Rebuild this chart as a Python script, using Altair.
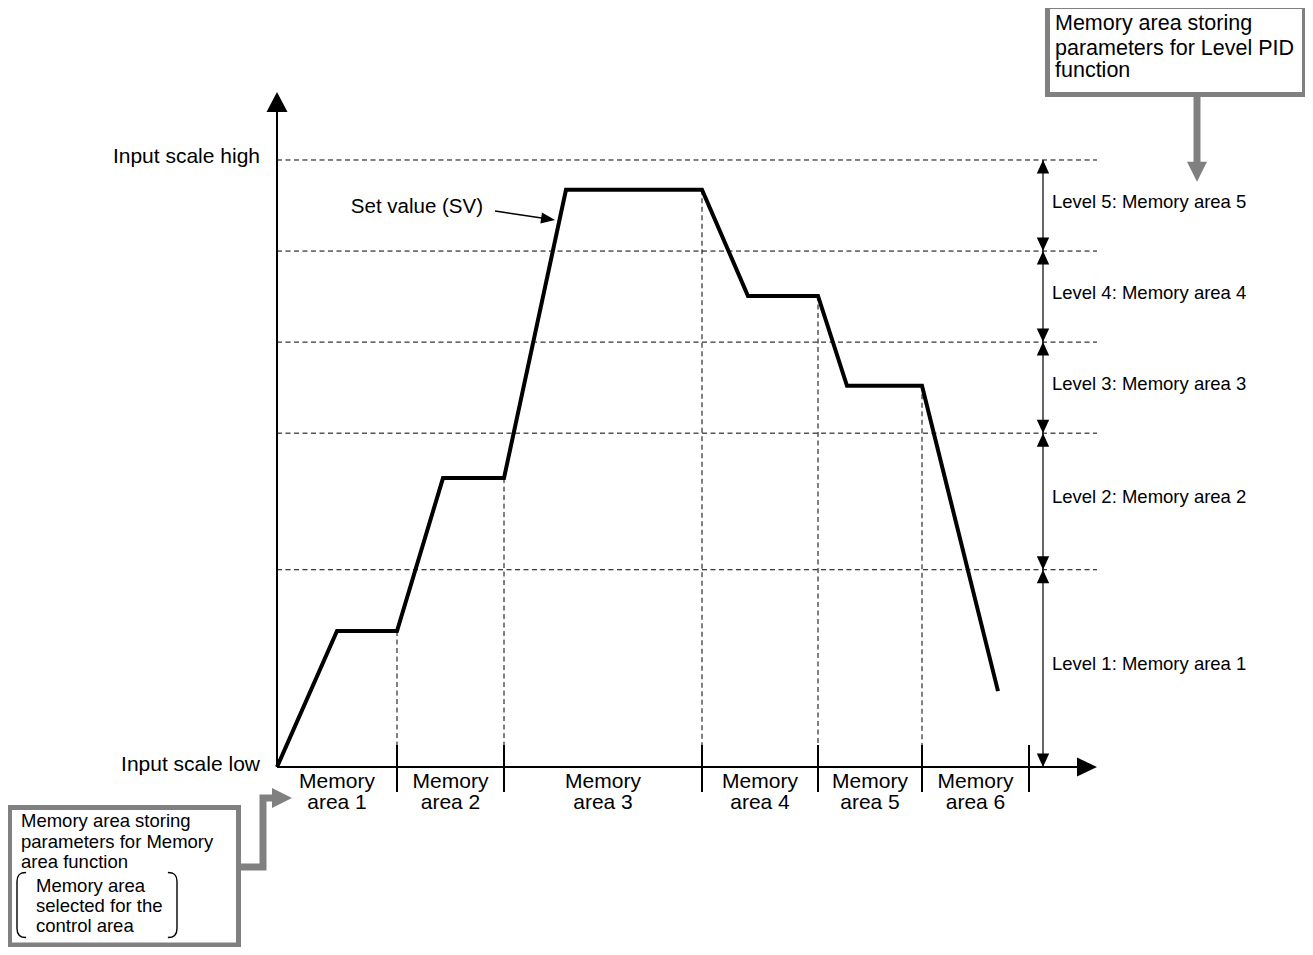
import altair as alt
import numpy as np
import pandas as pd

# ---------------- data (diagram units: time →, % of input range ↑) ----------------
sv_time = [0.0, 6.0, 12.0, 16.6, 22.7, 28.9, 42.5, 47.1, 54.1, 57.0, 64.5, 72.1]
sv_value = [0.0, 22.4, 22.4, 47.6, 47.6, 95.1, 95.1, 77.6, 77.6, 62.8, 62.8, 12.5]
area_bounds = [0.0, 12.0, 22.7, 42.5, 54.1, 64.5, 75.2]
area_names = ["area 1", "area 2", "area 3", "area 4", "area 5", "area 6"]
level_bounds = [0.0, 32.5, 55.0, 70.0, 85.0, 100.0]
level_names = ["Level 1: Memory area 1", "Level 2: Memory area 2",
               "Level 3: Memory area 3", "Level 4: Memory area 4",
               "Level 5: Memory area 5"]
scale_names = ["Input scale low", "Input scale high"]
sv_name = "Set value (SV)"
note_level_lines = ["Memory area storing", "parameters for Level PID", "function"]
note_area_lines = ["Memory area storing", "parameters for Memory", "area function"]
note_area_sub_lines = ["Memory area", "selected for the", "control area"]

# ---------------- layout ----------------
W, H = 1297, 939
X_DOM = [-26.9, 102.8]
Y_DOM = [-29.65, 125.04]
T_END = 82.0
FONT = "Liberation Sans"
GRAY = "#808080"
DASH = [5, 3.5]

xs = alt.Scale(domain=X_DOM, nice=False, zero=False)
ys = alt.Scale(domain=Y_DOM, nice=False, zero=False)


def X(f):
    return alt.X(f"{f}:Q", scale=xs, axis=None)


def Y(f):
    return alt.Y(f"{f}:Q", scale=ys, axis=None)


layers = []

# horizontal dashed level lines
hd = pd.DataFrame({"y": level_bounds[1:], "x0": 0.0, "x1": T_END})
layers.append(alt.Chart(hd).mark_rule(color="black", strokeWidth=1, strokeDash=DASH)
              .encode(x=X("x0"), x2="x1", y=Y("y")))

# vertical dashed lines from SV down to the ticks
TICK_TOP, TICK_BOT = 3.62, -4.12
vb = area_bounds[1:-1]
vd = pd.DataFrame({"t": vb, "ytop": np.interp(vb, sv_time, sv_value), "ybot": TICK_TOP})
layers.append(alt.Chart(vd).mark_rule(color="black", strokeWidth=1, strokeDash=DASH)
              .encode(x=X("t"), y=Y("ytop"), y2="ybot"))

# ticks on time axis
tk = pd.DataFrame({"t": area_bounds[1:], "y0": TICK_TOP, "y1": TICK_BOT})
layers.append(alt.Chart(tk).mark_rule(color="black", strokeWidth=2)
              .encode(x=X("t"), y=Y("y0"), y2="y1"))

# axes lines
ax = pd.DataFrame({"x0": [0.0, 0.0], "x1": [0.0, 80.3], "y0": [0.0, 0.0], "y1": [107.9, 0.0]})
layers.append(alt.Chart(ax).mark_rule(color="black", strokeWidth=2)
              .encode(x=X("x0"), x2="x1", y=Y("y0"), y2="y1"))

# axis arrowheads
layers.append(alt.Chart(pd.DataFrame({"t": [0.0], "v": [111.2]}))
              .mark_point(shape="M0,0L-1.05,2L1.05,2Z", filled=True, size=400, color="black", opacity=1)
              .encode(x=X("t"), y=Y("v")))
layers.append(alt.Chart(pd.DataFrame({"t": [T_END], "v": [0.0]}))
              .mark_point(shape="M0,0L-2,-0.95L-2,0.95Z", filled=True, size=400, color="black", opacity=1)
              .encode(x=X("t"), y=Y("v")))

# set value line
sv = pd.DataFrame({"t": sv_time, "v": sv_value, "o": range(len(sv_time))})
layers.append(alt.Chart(sv).mark_line(color="black", strokeWidth=4, strokeJoin="miter")
              .encode(x=X("t"), y=Y("v"), order="o:Q"))

# level dimension line with arrowheads
LV_X = 76.6
layers.append(alt.Chart(pd.DataFrame({"t": [LV_X], "y0": [level_bounds[0]], "y1": [level_bounds[-1]]}))
              .mark_rule(color="black", strokeWidth=1.2)
              .encode(x=X("t"), y=Y("y0"), y2="y1"))
ups = pd.DataFrame({"t": LV_X, "v": level_bounds[1:]})
downs = pd.DataFrame({"t": LV_X, "v": level_bounds[:-1]})
layers.append(alt.Chart(ups).mark_point(shape="M0,0L-0.62,1.35L0.62,1.35Z", filled=True, size=400,
                                        color="black", opacity=1)
              .encode(x=X("t"), y=Y("v")))
layers.append(alt.Chart(downs).mark_point(shape="M0,0L-0.62,-1.35L0.62,-1.35Z", filled=True, size=400,
                                          color="black", opacity=1)
              .encode(x=X("t"), y=Y("v")))

# level labels
mids = [(a + b) / 2 for a, b in zip(level_bounds[:-1], level_bounds[1:])]
ll = pd.DataFrame({"t": 77.5, "v": mids, "txt": level_names})
layers.append(alt.Chart(ll).mark_text(font=FONT, fontSize=18.5, align="left", baseline="middle",
                                      dy=-4, color="black")
              .encode(x=X("t"), y=Y("v"), text="txt:N"))

# memory area labels
amid = [(a + b) / 2 for a, b in zip(area_bounds[:-1], area_bounds[1:])]
al = pd.DataFrame({"t": amid, "v": 0.0, "l1": "Memory", "l2": area_names})
layers.append(alt.Chart(al).mark_text(font=FONT, fontSize=21, align="center", baseline="middle",
                                      dy=15, color="black")
              .encode(x=X("t"), y=Y("v"), text="l1:N"))
layers.append(alt.Chart(al).mark_text(font=FONT, fontSize=21, align="center", baseline="middle",
                                      dy=36, color="black")
              .encode(x=X("t"), y=Y("v"), text="l2:N"))

# input scale labels
sl = pd.DataFrame({"t": -1.7, "v": [0.0, 100.0], "txt": scale_names})
layers.append(alt.Chart(sl).mark_text(font=FONT, fontSize=21, align="right", baseline="middle",
                                      dy=-2.5, color="black")
              .encode(x=X("t"), y=Y("v"), text="txt:N"))

# SV annotation arrow
layers.append(alt.Chart(pd.DataFrame({"x0": [21.8], "x1": [26.8], "y0": [91.6], "y1": [90.35]}))
              .mark_rule(color="black", strokeWidth=1.5)
              .encode(x=X("x0"), x2="x1", y=Y("y0"), y2="y1"))
layers.append(alt.Chart(pd.DataFrame({"t": [27.8], "v": [90.1]}))
              .mark_point(shape="M0,0L-1.4,-0.55L-1.4,0.55Z", filled=True, size=400, color="black",
                          opacity=1, angle=8.5)
              .encode(x=X("t"), y=Y("v")))
layers.append(alt.Chart(pd.DataFrame({"t": [20.6], "v": [92.26], "txt": [sv_name]}))
              .mark_text(font=FONT, fontSize=20.5, align="right", baseline="middle", color="black")
              .encode(x=X("t"), y=Y("v"), text="txt:N"))

# ---- top-right note box ----
layers.append(alt.Chart(pd.DataFrame({"x0": [92.0], "y0": [110.4], "y1": [99.4]}))
              .mark_rule(color=GRAY, strokeWidth=7)
              .encode(x=X("x0"), y=Y("y0"), y2="y1"))
layers.append(alt.Chart(pd.DataFrame({"t": [92.0], "v": [96.4]}))
              .mark_point(shape="M0,0L-1,-2L1,-2Z", filled=True, size=400, color=GRAY, opacity=1)
              .encode(x=X("t"), y=Y("v")))
layers.append(alt.Chart(pd.DataFrame({"x0": [77.05], "x1": [102.75], "y0": [125.3], "y1": [110.79]}))
              .mark_rect(fill="white", stroke=GRAY, strokeWidth=5)
              .encode(x=X("x0"), x2="x1", y=Y("y0"), y2="y1"))
nl = pd.DataFrame({"t": 77.8, "v": [122.4, 118.3, 114.6], "txt": note_level_lines})
layers.append(alt.Chart(nl).mark_text(font=FONT, fontSize=21.5, align="left", baseline="middle",
                                      color="black")
              .encode(x=X("t"), y=Y("v"), text="txt:N"))

# ---- bottom-left note box ----
conn = pd.DataFrame({"t": [-3.6, -1.4, -1.4, -0.2], "v": [-16.47, -16.47, -5.1, -5.1], "o": [0, 1, 2, 3]})
layers.append(alt.Chart(conn).mark_line(color=GRAY, strokeWidth=7, strokeJoin="miter", strokeCap="butt")
              .encode(x=X("t"), y=Y("v"), order="o:Q"))
layers.append(alt.Chart(pd.DataFrame({"t": [1.5], "v": [-5.1]}))
              .mark_point(shape="M0,0L-2,-1L-2,1Z", filled=True, size=400, color=GRAY, opacity=1)
              .encode(x=X("t"), y=Y("v")))
layers.append(alt.Chart(pd.DataFrame({"x0": [-26.75], "x1": [-3.85], "y0": [-6.67], "y1": [-29.3]}))
              .mark_rect(fill="white", stroke=GRAY, strokeWidth=5)
              .encode(x=X("x0"), x2="x1", y=Y("y0"), y2="y1"))
na = pd.DataFrame({"t": -25.6, "v": [-8.9, -12.36, -15.65], "txt": note_area_lines})
layers.append(alt.Chart(na).mark_text(font=FONT, fontSize=18.5, align="left", baseline="middle",
                                      color="black")
              .encode(x=X("t"), y=Y("v"), text="txt:N"))
ns = pd.DataFrame({"t": -24.1, "v": [-19.6, -22.9, -26.2], "txt": note_area_sub_lines})
layers.append(alt.Chart(ns).mark_text(font=FONT, fontSize=18.5, align="left", baseline="middle",
                                      color="black")
              .encode(x=X("t"), y=Y("v"), text="txt:N"))
# brackets around the sub-note
layers.append(alt.Chart(pd.DataFrame({"t": [-26.0], "v": [-22.73]}))
              .mark_point(shape="M0.28,-1C0.05,-1 0,-0.88 0,-0.72L0,0.72C0,0.88 0.05,1 0.28,1",
                          filled=False, size=4225, color="black", strokeWidth=1.4, opacity=1)
              .encode(x=X("t"), y=Y("v")))
layers.append(alt.Chart(pd.DataFrame({"t": [-10.0], "v": [-22.73]}))
              .mark_point(shape="M-0.28,-1C-0.05,-1 0,-0.88 0,-0.72L0,0.72C0,0.88 -0.05,1 -0.28,1",
                          filled=False, size=4225, color="black", strokeWidth=1.4, opacity=1)
              .encode(x=X("t"), y=Y("v")))

chart = (alt.layer(*layers)
         .properties(width=W, height=H, padding=0, autosize="none", background="white")
         .configure_view(stroke=None))

chart.save("out.html", embed_options={"renderer": "svg", "actions": False})
